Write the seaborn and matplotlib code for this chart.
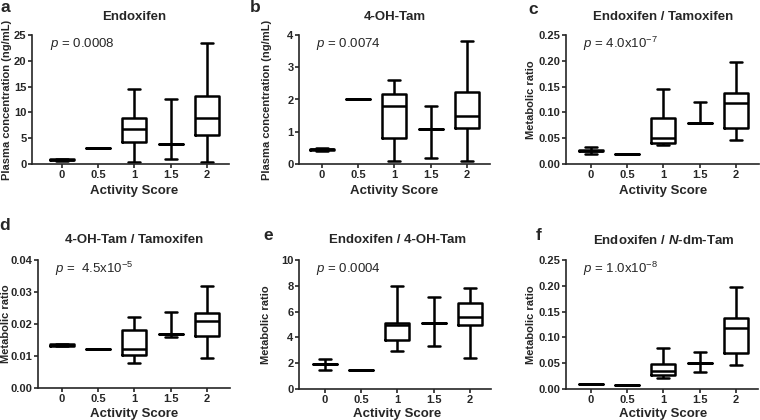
import matplotlib
matplotlib.use("Agg")
import matplotlib.pyplot as plt
import numpy as np
import pandas as pd
import seaborn as sns

sns.set_style("ticks")
plt.rcParams["font.family"] = ["Liberation Sans", "DejaVu Sans"]
plt.rcParams["mathtext.fontset"] = "custom"
plt.rcParams["mathtext.rm"] = "Liberation Sans"
plt.rcParams["mathtext.it"] = "Liberation Sans:italic"
plt.rcParams["mathtext.bf"] = "Liberation Sans:bold"
plt.rcParams["mathtext.bfit"] = "Liberation Sans:italic:bold"

# Activity score groups
scores = ["0", "0.5", "1", "1.5", "2"]

# Box summaries per group: min, q1, median, q3, max
endoxifen = [[0.6, 0.7, 0.8, 0.9, 1.0], [3.1] * 5, [0.3, 4.2, 6.8, 9.0, 14.6],
             [1.0, 3.8, 3.8, 3.8, 12.5], [0.3, 5.7, 8.9, 13.2, 23.5]]
oh_tam = [[0.40, 0.42, 0.45, 0.48, 0.50], [2.0] * 5, [0.1, 0.82, 1.8, 2.18, 2.6],
          [0.2, 1.1, 1.1, 1.1, 1.8], [0.1, 1.12, 1.5, 2.23, 3.8]]
endo_tam = [[0.020, 0.025, 0.026, 0.027, 0.033], [0.019] * 5, [0.036, 0.041, 0.051, 0.090, 0.145],
            [0.079, 0.080, 0.080, 0.080, 0.120], [0.047, 0.070, 0.118, 0.138, 0.197]]
oh_tam_tam = [[0.0130, 0.0132, 0.0134, 0.0136, 0.0138], [0.0122] * 5, [0.0077, 0.0103, 0.0121, 0.0182, 0.0222],
              [0.0158, 0.0169, 0.0169, 0.0169, 0.0236], [0.0094, 0.0161, 0.0209, 0.0235, 0.0318]]
endo_oh = [[1.5, 1.9, 1.9, 1.9, 2.35], [1.5] * 5, [2.95, 3.8, 5.0, 5.1, 7.95],
           [3.35, 5.1, 5.1, 5.1, 7.15], [2.4, 4.95, 5.55, 6.65, 7.8]]
endo_ndm = [[0.009, 0.0093, 0.0095, 0.0097, 0.010], [0.007] * 5, [0.022, 0.027, 0.035, 0.048, 0.079],
            [0.033, 0.051, 0.051, 0.051, 0.071], [0.047, 0.070, 0.118, 0.138, 0.197]]

titles = ["Endoxifen", "4-OH-Tam", "Endoxifen / Tamoxifen",
          "4-OH-Tam / Tamoxifen", "Endoxifen / 4-OH-Tam", r"Endoxifen / $\mathbfit{N}$-dm-Tam"]
ylabels = ["Plasma concentration (ng/mL)", "Plasma concentration (ng/mL)", "Metabolic ratio",
           "Metabolic ratio", "Metabolic ratio", "Metabolic ratio"]
ptexts = [r"$p$ = 0.0008", r"$p$ = 0.0074", r"$p$ = 4.0x10$^{-7}$",
          r"$p$ =  4.5x10$^{-5}$", r"$p$ = 0.0004", r"$p$ = 1.0x10$^{-8}$"]
letters = ["a", "b", "c", "d", "e", "f"]
yticks = [[0, 5, 10, 15, 20, 25], [0, 1, 2, 3, 4], [0, 0.05, 0.10, 0.15, 0.20, 0.25],
          [0, 0.01, 0.02, 0.03, 0.04], [0, 2, 4, 6, 8, 10], [0, 0.05, 0.10, 0.15, 0.20, 0.25]]
yfmt = ["{:.0f}", "{:.0f}", "{:.2f}", "{:.2f}", "{:.0f}", "{:.2f}"]
datasets = [endoxifen, oh_tam, endo_tam, oh_tam_tam, endo_oh, endo_ndm]

# layout in pixels: axes left, right, top, bottom; first tick x; ylabel x; letter x,y; title y
boxes = [(32, 229, 35, 164, 62, 7, 5, 8, 17),
         (299, 490, 35, 164, 322, 267, 255, 8, 17),
         (566, 759, 35, 164, 591, 531, 533, 10, 17),
         (38, 230, 260, 388, 62, 6, 5, 225, 240),
         (299, 491, 260, 389, 325, 266, 268, 235, 240),
         (566, 758, 260, 389, 591, 531, 539, 235, 240)]
W, H = 760, 420
step = 36.2

fig = plt.figure(figsize=(7.6, 4.2), dpi=100)

for i in range(6):
    l, r, t, b, x0, ylx, lx, ly, ty = boxes[i]
    ax = fig.add_axes([l / W, 1 - b / H, (r - l) / W, (b - t) / H])
    df = pd.DataFrame({"score": np.repeat(scores, 5),
                       "value": np.concatenate(datasets[i])})
    sns.boxplot(data=df, x="score", y="value", order=scores, whis=(0, 100),
                width=0.66, fill=False, color="black", linewidth=1.8,
                showfliers=False, ax=ax)
    xmin = (l - x0) / step
    xmax = (r - x0) / step
    ax.set_xlim(xmin, xmax)
    ax.set_ylim(0, yticks[i][-1])
    ax.set_yticks(yticks[i], [yfmt[i].format(v) for v in yticks[i]])
    sns.despine(ax=ax)
    for s in ["left", "bottom"]:
        ax.spines[s].set_linewidth(1.2)
    ax.tick_params(length=3, width=1.2, labelsize=8, pad=1)
    for lab in ax.get_xticklabels() + ax.get_yticklabels():
        lab.set_fontweight("bold")

    ax.set_ylabel(ylabels[i], fontsize=8, fontweight="bold", va="center")
    ax.yaxis.set_label_coords((ylx - l) / (r - l), 0.5)
    ax.set_xlabel("Activity Score", fontsize=9.5, fontweight="bold", va="center")
    lab_y = 191 if i < 3 else 414
    ax.xaxis.set_label_coords((2 - xmin) / (xmax - xmin), (b - lab_y) / (b - t))

    ax.text(0.09, 0.93, ptexts[i], transform=ax.transAxes, fontsize=9.5,
            va="center", ha="left")
    fig.text((x0 + 2 * step) / W, 1 - ty / H, titles[i], fontsize=9.5,
             fontweight="bold", ha="center", va="center")
    fig.text(lx / W, 1 - ly / H, letters[i], fontsize=12.5, fontweight="bold",
             ha="center", va="center")

fig.savefig("out.png", dpi=100)
